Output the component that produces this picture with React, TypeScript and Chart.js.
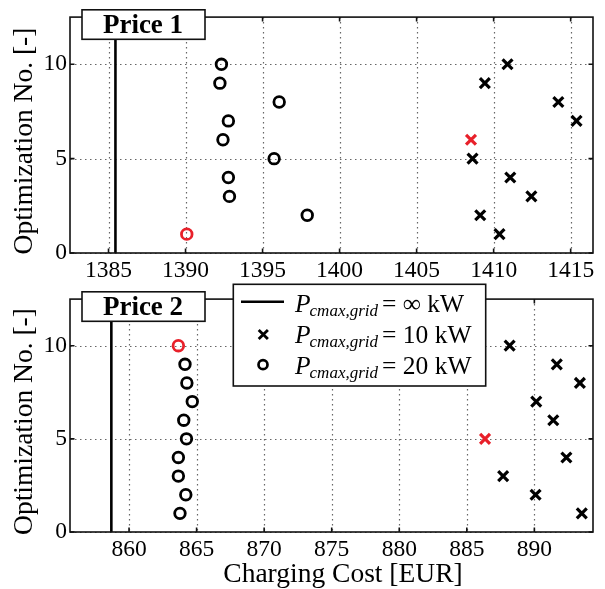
import React, { useEffect, useRef } from 'react';
import { Chart, registerables } from 'chart.js';

Chart.register(...registerables);

// ---------------- data ----------------
const OPT_NO = [1, 2, 3, 4, 5, 6, 7, 8, 9, 10];

const P1_COST_INF = 1385.45;
const P1_COST_10KW = [1410.38, 1409.13, 1412.45, 1411.08, 1408.63, 1408.53, 1415.38, 1414.2, 1409.43, 1410.9];
const P1_COST_20KW = [1390.08, 1397.9, 1392.85, 1392.78, 1395.75, 1392.43, 1392.78, 1396.08, 1392.23, 1392.33];
const P1_BEST_10KW = 6;
const P1_BEST_20KW = 1;
const P1_X_TICKS = [1385, 1390, 1395, 1400, 1405, 1410, 1415];
const P1_X_RANGE = [1382.5, 1416.45];

const P2_COST_INF = 858.69;
const P2_COST_10KW = [893.51, 890.09, 887.69, 892.37, 886.35, 891.4, 890.14, 893.37, 891.66, 888.17];
const P2_COST_20KW = [863.77, 864.2, 863.65, 863.65, 864.25, 864.05, 864.68, 864.28, 864.14, 863.65];
const P2_BEST_10KW = 5;
const P2_BEST_20KW = 10;
const P2_X_TICKS = [860, 865, 870, 875, 880, 885, 890];
const P2_X_RANGE = [855.63, 894.34];

const Y_TICKS = [0, 5, 10];
const Y_RANGE = [0, 12.5];

const PANEL_TITLES = ['Price 1', 'Price 2'];
const X_TITLE = 'Charging Cost [EUR]';
const Y_TITLE = 'Optimization No. [-]';
const LEGEND_SYMBOL = 'P';
const LEGEND_SUB = 'cmax,grid';
const LEGEND_LABELS = ['= \u221E kW', '= 10 kW', '= 20 kW'];

// ---------------- styles ----------------
const FONT = "'Liberation Serif', 'Times New Roman', serif";
const RED = '#e8202a';
const BLACK = '#000000';
const W = 605;

type PanelCfg = {
  key: string;
  title: string;
  inf: number;
  c10: number[];
  c20: number[];
  best10: number;
  best20: number;
  xTicks: number[];
  xRange: number[];
  canvasTop: number;
  canvasH: number;
  padTop: number;
  xAxisH: number;
  legend: boolean;
  xTitle: boolean;
};

const PANELS: PanelCfg[] = [
  {
    key: 'p1', title: PANEL_TITLES[0], inf: P1_COST_INF, c10: P1_COST_10KW, c20: P1_COST_20KW,
    best10: P1_BEST_10KW, best20: P1_BEST_20KW, xTicks: P1_X_TICKS, xRange: P1_X_RANGE,
    canvasTop: 0, canvasH: 282, padTop: 13, xAxisH: 29, legend: false, xTitle: false,
  },
  {
    key: 'p2', title: PANEL_TITLES[1], inf: P2_COST_INF, c10: P2_COST_10KW, c20: P2_COST_20KW,
    best10: P2_BEST_10KW, best20: P2_BEST_20KW, xTicks: P2_X_TICKS, xRange: P2_X_RANGE,
    canvasTop: 282, canvasH: 307, padTop: 10, xAxisH: 57, legend: true, xTitle: true,
  },
];

function framePlugin(p: PanelCfg) {
  return {
    id: 'frame_' + p.key,
    beforeDatasetsDraw(chart: any) {
      const { ctx, chartArea: a, scales } = chart;
      const x = scales.x, y = scales.y;
      ctx.save();
      ctx.strokeStyle = '#666';
      ctx.lineWidth = 1.2;
      ctx.setLineDash([1.5, 3.5]);
      for (const v of p.xTicks) {
        const px = Math.round(x.getPixelForValue(v)) + 0.5;
        ctx.beginPath(); ctx.moveTo(px, a.top); ctx.lineTo(px, a.bottom); ctx.stroke();
      }
      for (const v of Y_TICKS) {
        const py = Math.round(y.getPixelForValue(v)) + 0.5;
        ctx.beginPath(); ctx.moveTo(a.left, py); ctx.lineTo(a.right, py); ctx.stroke();
      }
      ctx.restore();
    },
    afterDatasetsDraw(chart: any) {
      const { ctx, chartArea: a, scales } = chart;
      const x = scales.x, y = scales.y;
      ctx.save();
      ctx.setLineDash([]);
      ctx.strokeStyle = '#111';
      ctx.lineWidth = 1.6;
      ctx.strokeRect(a.left, a.top, a.right - a.left, a.bottom - a.top);
      const tl = 4.5;
      for (const v of p.xTicks) {
        const px = x.getPixelForValue(v);
        ctx.beginPath();
        ctx.moveTo(px, a.bottom); ctx.lineTo(px, a.bottom - tl);
        ctx.moveTo(px, a.top); ctx.lineTo(px, a.top + tl);
        ctx.stroke();
      }
      for (const v of Y_TICKS) {
        const py = y.getPixelForValue(v);
        ctx.beginPath();
        ctx.moveTo(a.left, py); ctx.lineTo(a.left + tl, py);
        ctx.moveTo(a.right, py); ctx.lineTo(a.right - tl, py);
        ctx.stroke();
      }
      ctx.restore();
    },
    afterDraw(chart: any) {
      const { ctx, chartArea: a } = chart;
      ctx.save();
      // y title
      ctx.fillStyle = BLACK;
      ctx.font = `27.5px ${FONT}`;
      ctx.textAlign = 'center';
      ctx.textBaseline = 'middle';
      ctx.translate(25, (a.top + a.bottom) / 2 + 6);
      ctx.rotate(-Math.PI / 2);
      ctx.fillText(Y_TITLE, 0, 0);
      ctx.restore();

      // panel title box
      ctx.save();
      const bx = 82, by = a.top - 7.3, bw = 123, bh = 29.5;
      ctx.fillStyle = '#fff';
      ctx.fillRect(bx, by, bw, bh);
      ctx.strokeStyle = '#111';
      ctx.lineWidth = 1.6;
      ctx.strokeRect(bx, by, bw, bh);
      ctx.fillStyle = BLACK;
      ctx.font = `bold 27px ${FONT}`;
      ctx.textAlign = 'center';
      ctx.textBaseline = 'alphabetic';
      ctx.fillText(p.title, bx + bw / 2 - 0.5, by + bh - 6);
      ctx.restore();

      if (p.legend) {
        ctx.save();
        const lx = 233.3, ly = 2.3, lw = 252.4, lh = 101.7;
        ctx.fillStyle = '#fff';
        ctx.fillRect(lx, ly, lw, lh);
        ctx.strokeStyle = '#111';
        ctx.lineWidth = 1.6;
        ctx.strokeRect(lx, ly, lw, lh);
        const baselines = [29.7, 61.0, 91.5];
        const symY = [19.7, 52.5, 82.7];
        // symbols
        ctx.strokeStyle = BLACK;
        ctx.lineWidth = 2.6;
        ctx.beginPath(); ctx.moveTo(241, symY[0]); ctx.lineTo(284, symY[0]); ctx.stroke();
        ctx.lineWidth = 2.8;
        const cx = 263.3, cs = 4.6;
        ctx.beginPath();
        ctx.moveTo(cx - cs, symY[1] - cs); ctx.lineTo(cx + cs, symY[1] + cs);
        ctx.moveTo(cx - cs, symY[1] + cs); ctx.lineTo(cx + cs, symY[1] - cs);
        ctx.stroke();
        ctx.lineWidth = 2.7;
        ctx.beginPath(); ctx.arc(263, symY[2], 4.5, 0, Math.PI * 2); ctx.stroke();
        // text
        ctx.fillStyle = BLACK;
        ctx.textAlign = 'left';
        ctx.textBaseline = 'alphabetic';
        LEGEND_LABELS.forEach((lab, i) => {
          let tx = 295;
          ctx.font = `italic 25.5px ${FONT}`;
          ctx.fillText(LEGEND_SYMBOL, tx, baselines[i]);
          tx += ctx.measureText(LEGEND_SYMBOL).width - 1;
          ctx.font = `italic 17px ${FONT}`;
          ctx.fillText(LEGEND_SUB, tx, baselines[i] + 4);
          tx += ctx.measureText(LEGEND_SUB).width + 4;
          ctx.font = `25.5px ${FONT}`;
          ctx.fillText(lab, tx, baselines[i]);
        });
        ctx.restore();
      }

      if (p.xTitle) {
        ctx.save();
        ctx.fillStyle = BLACK;
        ctx.font = `27.5px ${FONT}`;
        ctx.textAlign = 'center';
        ctx.textBaseline = 'alphabetic';
        ctx.fillText(X_TITLE, 343, 299.7);
        ctx.restore();
      }
    },
  };
}

function makeConfig(p: PanelCfg): any {
  const colors = (best: number) => OPT_NO.map((n) => (n === best ? RED : BLACK));
  return {
    type: 'scatter',
    data: {
      datasets: [
        {
          type: 'line',
          label: 'inf',
          data: [{ x: p.inf, y: Y_RANGE[0] }, { x: p.inf, y: Y_RANGE[1] }],
          borderColor: BLACK,
          borderWidth: 2.6,
          pointRadius: 0,
          fill: false,
          order: 3,
        },
        {
          label: '20 kW',
          data: OPT_NO.map((n, i) => ({ x: p.c20[i], y: n })),
          pointStyle: 'circle',
          pointRadius: 5.3,
          pointBorderWidth: 2.8,
          pointBorderColor: colors(p.best20),
          pointBackgroundColor: 'rgba(0,0,0,0)',
          order: 2,
        },
        {
          label: '10 kW',
          data: OPT_NO.map((n, i) => ({ x: p.c10[i], y: n })),
          pointStyle: 'crossRot',
          pointRadius: 7,
          pointBorderWidth: 3.2,
          pointBorderColor: colors(p.best10),
          pointBackgroundColor: 'rgba(0,0,0,0)',
          order: 1,
        },
      ],
    },
    options: {
      animation: false,
      responsive: false,
      events: [],
      layout: { padding: { left: 0, right: 12, top: p.padTop, bottom: 0 } },
      plugins: { legend: { display: false }, tooltip: { enabled: false }, title: { display: false } },
      scales: {
        x: {
          type: 'linear',
          min: p.xRange[0],
          max: p.xRange[1],
          afterBuildTicks: (s: any) => { s.ticks = p.xTicks.map((v) => ({ value: v })); },
          afterFit: (s: any) => { s.height = p.xAxisH; },
          grid: { display: false, drawTicks: false },
          border: { display: false },
          ticks: {
            font: { family: FONT, size: 23.5 },
            color: BLACK,
            padding: 4,
            maxRotation: 0,
            autoSkip: false,
            callback: (v: any) => String(v),
          },
        },
        y: {
          type: 'linear',
          min: Y_RANGE[0],
          max: Y_RANGE[1],
          afterBuildTicks: (s: any) => { s.ticks = Y_TICKS.map((v) => ({ value: v })); },
          afterFit: (s: any) => { s.width = 70; },
          grid: { display: false, drawTicks: false },
          border: { display: false },
          ticks: {
            font: { family: FONT, size: 23.5 },
            color: BLACK,
            padding: 3,
            callback: (v: any) => String(v),
          },
        },
      },
    },
    plugins: [framePlugin(p)],
  };
}

function Panel({ p }: { p: PanelCfg }) {
  const ref = useRef<HTMLCanvasElement>(null);
  useEffect(() => {
    if (!ref.current) return;
    const chart = new Chart(ref.current, makeConfig(p));
    return () => chart.destroy();
  }, [p]);
  return (
    <canvas
      ref={ref}
      width={W}
      height={p.canvasH}
      style={{ position: 'absolute', left: 0, top: p.canvasTop, width: W, height: p.canvasH }}
    />
  );
}

export default function App() {
  return (
    <div style={{ position: 'absolute', left: 0, top: 0, width: W, height: 589, background: '#fff' }}>
      {PANELS.map((p) => (
        <Panel key={p.key} p={p} />
      ))}
    </div>
  );
}
